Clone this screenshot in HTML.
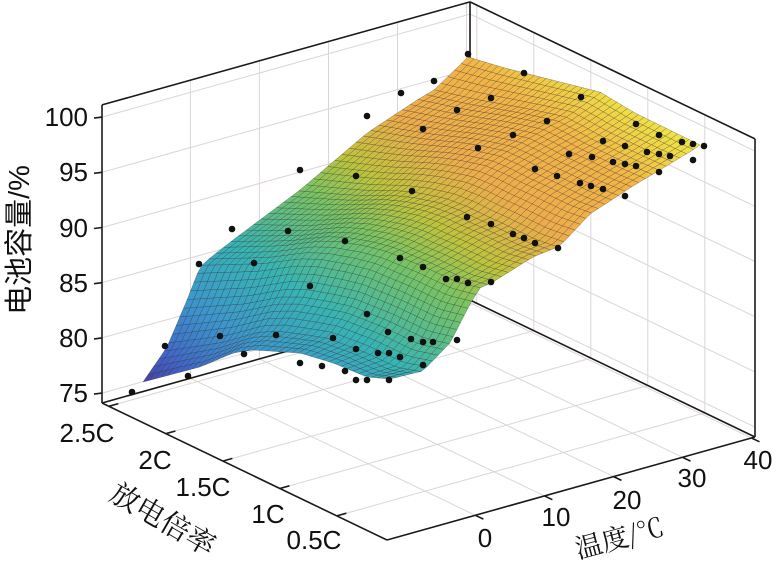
<!DOCTYPE html>
<html><head><meta charset="utf-8">
<style>
html,body{margin:0;padding:0;background:#fff;}
svg{display:block;}
text{font-family:"Liberation Sans","Noto Sans CJK SC",sans-serif;fill:#111;}
.cj{font-family:"Noto Serif CJK SC","Liberation Serif",serif;}
</style></head>
<body>
<svg id="s" width="776" height="561" viewBox="0 0 776 561" xmlns="http://www.w3.org/2000/svg">
<g id="grid" stroke="#dcd5d5" stroke-width="1" fill="none"></g>
<g id="box" stroke="#1a1a1a" stroke-width="1.6" fill="none"></g>
<g id="surf"></g>
<g id="dots" fill="#111"></g>
<g id="ticks" stroke="#1a1a1a" stroke-width="1.6"></g>
<g font-size="26" text-anchor="end">
<text x="88" y="126">100</text>
<text x="88" y="181">95</text>
<text x="88" y="237">90</text>
<text x="88" y="292">85</text>
<text x="88" y="347">80</text>
<text x="88" y="402">75</text>
</g>
<g font-size="26" text-anchor="middle">
<text x="87" y="442">2.5C</text>
<text x="155" y="469">2C</text>
<text x="203" y="496">1.5C</text>
<text x="268" y="523">1C</text>
<text x="314" y="549">0.5C</text>
<text x="485" y="547">0</text>
<text x="556" y="526">10</text>
<text x="627" y="509">20</text>
<text x="692" y="487">30</text>
<text x="758" y="469">40</text>
</g>
<text x="0" y="0" font-size="29" text-anchor="middle" transform="translate(29,240) rotate(-90)">电池容量/%</text>
<text class="cj" x="0" y="0" font-size="29" text-anchor="middle" transform="translate(158,528) rotate(30)">放电倍率</text>
<text class="cj" x="0" y="0" font-size="27" text-anchor="middle" transform="translate(622,547) rotate(-15)">温度/℃</text>
</svg>
<script>
const NS="http://www.w3.org/2000/svg";
function el(p,n,a){const e=document.createElementNS(NS,n);for(const k in a)e.setAttribute(k,a[k]);p.appendChild(e);return e;}
const z0=74.1,zt=101.1;
const P=(fT,fr,z)=>[387+fT*368-fr*285,540-fT*103-fr*137-(z-z0)*11.04];
const tf=T=>(T+12.8)/53.3, rf=r=>(r-0.06)/2.5;
const g=document.getElementById('grid'),bx=document.getElementById('box');
function line(p,a,b){el(p,'line',{x1:a[0].toFixed(1),y1:a[1].toFixed(1),x2:b[0].toFixed(1),y2:b[1].toFixed(1)});}
const Ts=[0,10,20,30,40],Rs=[0.5,1,1.5,2,2.5],Zs=[75,80,85,90,95,100];
Ts.forEach(T=>{line(g,P(tf(T),1,z0),P(tf(T),1,zt));line(g,P(tf(T),0,z0),P(tf(T),1,z0));});
Rs.forEach(r=>{line(g,P(1,rf(r),z0),P(1,rf(r),zt));line(g,P(0,rf(r),z0),P(1,rf(r),z0));});
Zs.forEach(z=>{line(g,P(0,1,z),P(1,1,z));line(g,P(1,0,z),P(1,1,z));});
[[[0,1,z0],[0,1,zt]],[[0,1,zt],[1,1,zt]],[[1,1,zt],[1,1,z0]],[[1,1,zt],[1,0,zt]],[[1,0,zt],[1,0,z0]],[[1,0,z0],[1,1,z0]],[[1,1,z0],[0,1,z0]],[[0,1,z0],[0,0,z0]],[[0,0,z0],[1,0,z0]]].forEach(s=>line(bx,P(...s[0]),P(...s[1])));
const tk=document.getElementById('ticks');
Zs.forEach(z=>{const p=P(0,1,z);line(tk,p,[p[0]-8,p[1]+1]);});
Rs.forEach(r=>{const p=P(0,rf(r),z0);line(tk,p,[p[0]+9.6,p[1]-2.7]);});
Ts.forEach(T=>{const p=P(tf(T),0,z0);line(tk,p,[p[0]+8,p[1]+3.8]);});
function sampler(pts){const L=[0];for(let i=1;i<pts.length;i++)L.push(L[i-1]+Math.hypot(pts[i][0]-pts[i-1][0],pts[i][1]-pts[i-1][1]));const tot=L[L.length-1];
return t=>{const d=t*tot;let i=1;while(i<L.length-1&&L[i]<d)i++;const f=(d-L[i-1])/(L[i]-L[i-1]||1);return[pts[i-1][0]+f*(pts[i][0]-pts[i-1][0]),pts[i-1][1]+f*(pts[i][1]-pts[i-1][1])];};}
const A=[143,382],B=[468,57],C=[700,145],D=[390,379];
const c0=sampler([A,[200,367],[233,353],[253,350],[300,353],[333,363],[367,377],D]);
const c1=sampler([B,[505,68],[560,82],[600,92],[635,113],C]);
const d0=sampler([A,[167,347],[187,300],[200,267],[210,258],[233,240],[300,190],[367,133],[417,100],[434,90],B]);
const d1=sampler([D,[423,371],[450,343],[470,304],[480,288],[493,282],[533,257],[560,246],[590,214],[633,186],[693,150],C]);
function S(u,v){const a=c0(u),b=c1(u),c=d0(v),d=d1(v);const r=[];for(let k=0;k<2;k++){r.push((1-v)*a[k]+v*b[k]+(1-u)*c[k]+u*d[k]-((1-u)*(1-v)*A[k]+u*(1-v)*D[k]+(1-u)*v*B[k]+u*v*C[k]));}return r;}
const cm=[[0,70,55,150],[0.15,65,100,200],[0.3,60,150,205],[0.45,55,180,180],[0.6,120,195,100],[0.68,190,195,60],[0.78,238,172,75],[0.9,242,180,70],[1,238,232,70]];
function col(w){w=Math.max(0,Math.min(1,w));for(let i=1;i<cm.length;i++){if(w<=cm[i][0]){const a=cm[i-1],b=cm[i],f=(w-a[0])/(b[0]-a[0]);return 'rgb('+[1,2,3].map(k=>Math.round(a[k]+f*(b[k]-a[k]))).join(',')+')';}}return 'rgb(238,232,70)';}
const NU=40,NV=50,grd=[];
for(let i=0;i<=NU;i++){grd.push([]);for(let j=0;j<=NV;j++)grd[i].push(S(i/NU,j/NV));}
const sf=document.getElementById('surf');
for(let i=0;i<NU;i++)for(let j=0;j<NV;j++){const q=[grd[i][j],grd[i+1][j],grd[i+1][j+1],grd[i][j+1]];
const cx=(q[0][0]+q[1][0]+q[2][0]+q[3][0])/4,cy=(q[0][1]+q[1][1]+q[2][1]+q[3][1])/4;
let w=0.001142*(cx-143)+0.001535*(382-cy);w=Math.pow(Math.max(0,w),0.7);const c=col(w);
el(sf,'polygon',{points:q.map(p=>p[0].toFixed(1)+','+p[1].toFixed(1)).join(' '),fill:c,stroke:'rgba(40,40,40,0.5)','stroke-width':'0.5'});}
const dots=[[468,54],[434,81],[401,93],[367,116],[457,110],[423,129],[478,148],[300,170],[356,176],[412,191],[467,217],[232,229],[288,231],[345,241],[199,264],[254,263],[400,258],[423,267],[446,279],[457,279],[468,283],[310,286],[367,314],[165,346],[220,336],[276,335],[333,338],[457,340],[388,332],[411,339],[423,342],[433,342],[356,349],[244,354],[378,353],[389,353],[400,357],[300,363],[322,366],[345,371],[423,365],[188,376],[356,380],[367,380],[389,380],[132,392],
[524,73],[581,97],[636,124],[659,135],[682,142],[693,144],[704,146],[693,160],[659,172],[625,196],[603,141],[625,146],[647,152],[659,154],[670,156],[613,162],[625,164],[636,166],[592,157],[569,154],[547,121],[513,135],[491,98],[535,169],[557,176],[580,183],[591,186],[603,189],[491,224],[513,234],[524,238],[535,243],[558,248],[491,282]];
const dg=document.getElementById('dots');dots.forEach(p=>el(dg,'circle',{cx:p[0],cy:p[1],r:3.3}));
</script>
</body></html>
